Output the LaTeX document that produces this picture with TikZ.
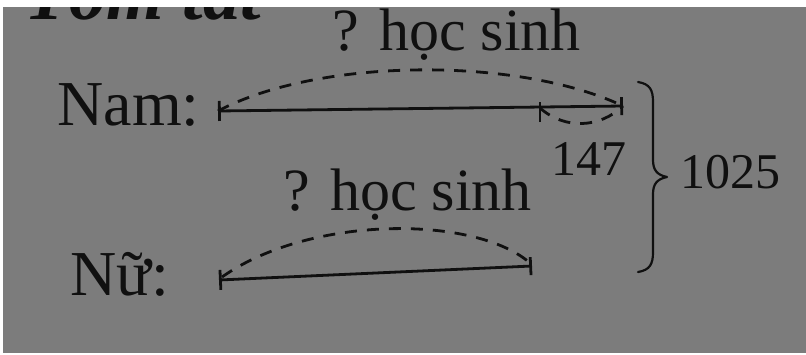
\documentclass[tikz,border=0pt]{standalone}
\usepackage{fontspec}
\setmainfont{Liberation Serif}
\usetikzlibrary{arrows.meta}
\definecolor{paper}{RGB}{124,124,124}
\definecolor{ink}{RGB}{16,16,16}
\begin{document}
\begin{tikzpicture}[x=0.5pt,y=-0.5pt,
  lbl/.style={inner sep=0pt, anchor=base west, text=ink, font=\fontsize{32}{38}\selectfont},
  qlbl/.style={inner sep=0pt, anchor=base west, text=ink, font=\fontsize{30}{36}\selectfont},
  num/.style={inner sep=0pt, anchor=base west, text=ink, font=\fontsize{25}{30}\selectfont},
  seg/.style={draw=ink, line width=1.4pt, {Bar[width=10pt,line width=1.4pt]}-{Bar[width=9pt,line width=1.4pt]}},
  dashline/.style={draw=ink, line width=1.4pt, dash pattern=on 6pt off 5pt},
  tick/.style={draw=ink, line width=1.4pt},
  brace/.style={draw=ink, line width=1.1pt, line cap=round, line join=round},
]
% background
\useasboundingbox (0,0) rectangle (806,354);
\fill[white] (0,0) rectangle (806,354);
\fill[paper] (3,7) rectangle (806,353);

% partial title, cut off by the top edge of the photo
\begin{scope}
  \clip (3,7) rectangle (806,353);
  \node[inner sep=0pt, anchor=base west, text=ink, font=\fontsize{37}{44}\selectfont\bfseries\itshape] (title) at (24,19) {Tóm tắt};
\end{scope}

% labels
\node[lbl] (nam) at (57,125) {Nam:};
\node[lbl] (nu) at (70,295) {Nữ:};
\node[qlbl] (q1) at (332,50) {? học sinh};
\node[qlbl] (q2) at (283,210) {? học sinh};
\node[num] (n147) at (551,175) {147};
\node[num] (n1025) at (680,188) {1025};

% Nam segment
\coordinate (namL) at (218,111);
\coordinate (namR) at (623,106);
\coordinate (namM) at (540,108);
\draw[seg] (namL) -- (namR);
\draw[tick] ([yshift=-7pt]namM) -- ([yshift=3pt]namM);
\draw[dashline] (namL) .. controls (320,57) and (520,57) .. (namR);
\draw[dashline] (namM) .. controls (565,130) and (600,128) .. (namR);

% Nu segment
\coordinate (nuL) at (219,280);
\coordinate (nuR) at (532,266);
\draw[seg] (nuL) -- (nuR);
\draw[dashline] ([shift={(3,-3)}]nuL) .. controls (310,215) and (475,215) .. ([shift={(-2,-3)}]nuR);

% brace
\coordinate (bTop) at (638,82);
\coordinate (bTip) at (667,177);
\coordinate (bBot) at (638,272);
\draw[brace] (bTop) .. controls (650,84) and (653,90) .. (653,102)
  -- (653,160) .. controls (653,170) and (657,175) .. (bTip)
  .. controls (657,179) and (653,184) .. (653,194)
  -- (653,252) .. controls (653,264) and (650,270) .. (bBot);
\end{tikzpicture}
\end{document}
